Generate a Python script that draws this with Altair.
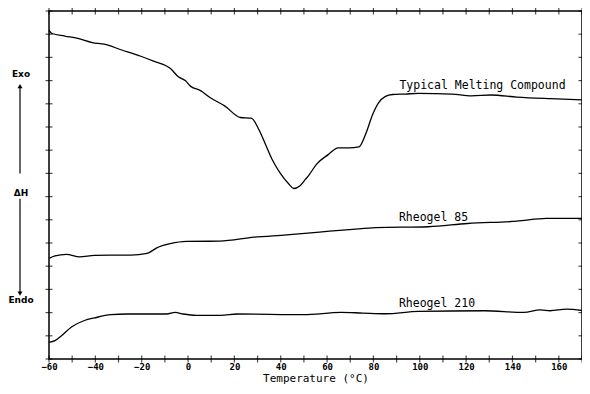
import altair as alt
import pandas as pd

# ---- data ----
tmc_t = [-60, -58.7, -53.2, -47.6, -41.3, -36.2, -28.9, -20.4, -14.9, -7.6, -4.2, -1.2, 1.3, 5.2, 9.8,
         15.8, 22.6, 27.3, 30.7, 33.3, 36.3, 39.7, 43.5, 45.6, 48.2, 50.7, 52.4, 55.4, 60.5, 64.8,
         69.5, 73.7, 76.7, 79.7, 82.2, 85.2, 88.2, 93.7, 99.3, 113.8, 122.3, 130.8, 141.9, 156.4, 170]
tmc_v = [14.16, 14.03, 13.92, 13.82, 13.64, 13.57, 13.33, 13.05, 12.84, 12.52, 12.17, 12.00, 11.74, 11.58, 11.25,
         10.91, 10.41, 10.38, 9.86, 9.28, 8.60, 8.02, 7.54, 7.35, 7.46, 7.75, 7.96, 8.39, 8.81, 9.10,
         9.10, 9.14, 9.71, 10.55, 11.04, 11.32, 11.40, 11.42, 11.45, 11.42, 11.34, 11.38, 11.29, 11.22, 11.17]

r85_t = [-60, -57.4, -52.5, -46.8, -40.4, -33.3, -24.8, -17.7, -13.5, -7.7, -0.7, 13.6, 28.5, 42.6,
         56.7, 71.0, 81.0, 103.7, 120.6, 141.9, 154.7, 170]
r85_v = [4.34, 4.44, 4.51, 4.40, 4.47, 4.48, 4.48, 4.55, 4.79, 4.97, 5.07, 5.08, 5.25, 5.35,
         5.47, 5.59, 5.66, 5.70, 5.84, 5.94, 6.06, 6.06]

r210_t = [-60, -57.4, -54.6, -50.3, -44.7, -40.4, -33.3, -26.2, -9.2, -5.6, -2.1, 3.6, 14.1, 21.3,
          49.8, 66.1, 75.3, 85.2, 99.4, 127.8, 144.9, 152.0, 156.2, 163.3, 170]
r210_v = [0.72, 0.79, 1.00, 1.38, 1.66, 1.77, 1.91, 1.94, 1.94, 2.01, 1.94, 1.88, 1.88, 1.94,
          1.91, 2.01, 1.98, 1.95, 2.05, 2.08, 2.01, 2.12, 2.08, 2.15, 2.09]

series_names = ["Typical Melting Compound", "Rheogel 85", "Rheogel 210"]
label_t = [91.2, 91.0, 91.0]
label_v = [11.63, 5.94, 2.26]

x_tick_values = list(range(-60, 171, 10))
x_label_values = list(range(-60, 161, 20))
y_tick_values = list(range(0, 16))

side_text = ["Exo", "\u0394H", "Endo"]
side_text_v = [12.3, 7.16, 2.53]
arrow_from = [8.0, 6.91]
arrow_to = [11.76, 2.82]
arrow_shape = ["triangle-up", "triangle-down"]

# ---- tables ----
rows = []
for name, ts, vs in zip(series_names, [tmc_t, r85_t, r210_t], [tmc_v, r85_v, r210_v]):
    for t, v in zip(ts, vs):
        rows.append({"series": name, "t": t, "v": v})
curves = pd.DataFrame(rows)
labels = pd.DataFrame({"series": series_names, "t": label_t, "v": label_v})
xticks = pd.DataFrame([{"t": t, "v": v} for v in (0, 15) for t in x_tick_values])
yticks = pd.DataFrame([{"t": t, "v": v} for t in (-60, 170) for v in y_tick_values])
side = pd.DataFrame({"txt": side_text, "v": side_text_v})
arrows = pd.DataFrame({"v": arrow_from, "v2": arrow_to, "shape": arrow_shape})

xs = alt.Scale(domain=[-60, 170], nice=False, zero=False)
ys = alt.Scale(domain=[0, 15], nice=False, zero=False)

x_axis = alt.Axis(values=x_label_values, ticks=False, tickSize=0, grid=False, domain=False,
                  labelFont="DejaVu Sans Mono", labelFontSize=9, labelFontWeight="bold",
                  labelColor="black", labelPadding=3, labelFlush=False,
                  title="Temperature (\u00b0C)", titleFont="DejaVu Sans Mono", titleFontSize=11,
                  titleFontWeight="normal", titleColor="black", titlePadding=1)

X = alt.X("t:Q", scale=xs, axis=x_axis, title="Temperature (\u00b0C)")
Y = alt.Y("v:Q", scale=ys, axis=None)

lines = alt.Chart(curves).mark_line(color="black", strokeWidth=1.3, interpolate="monotone").encode(
    x=X, y=Y, detail="series:N")

xt = alt.Chart(xticks).mark_tick(orient="vertical", size=7, thickness=1.2, color="black").encode(x=X, y=Y)
yt = alt.Chart(yticks).mark_tick(orient="horizontal", size=7, thickness=1.2, color="black").encode(x=X, y=Y)

txt = alt.Chart(labels).mark_text(align="left", baseline="alphabetic", font="DejaVu Sans Mono",
                                   fontSize=11.5, color="black").encode(x=X, y=Y, text="series:N")

side_txt = alt.Chart(side).mark_text(align="center", baseline="middle", font="DejaVu Sans",
                                     fontSize=9, fontWeight="bold", color="black").encode(
    x=alt.value(-28), y=Y, text="txt:N")

arrow_lines = alt.Chart(arrows).mark_rule(color="black", strokeWidth=1.2).encode(
    x=alt.value(-29), y=Y, y2="v2:Q")
arrow_heads = alt.Chart(arrows).mark_point(filled=True, color="black", size=25, opacity=1).encode(
    x=alt.value(-29), y=alt.Y("v2:Q", scale=ys, axis=None),
    shape=alt.Shape("shape:N", scale=None))

chart = alt.layer(lines, xt, yt, txt, side_txt, arrow_lines, arrow_heads).properties(
    width=533, height=348,
    autosize=alt.AutoSizeParams(type="none"),
    padding={"left": 41, "top": 3, "right": 0, "bottom": 26},
    background="white",
).configure_view(stroke="black", strokeWidth=1.5)

chart.save("out.html", embed_options={"renderer": "svg", "actions": False})
